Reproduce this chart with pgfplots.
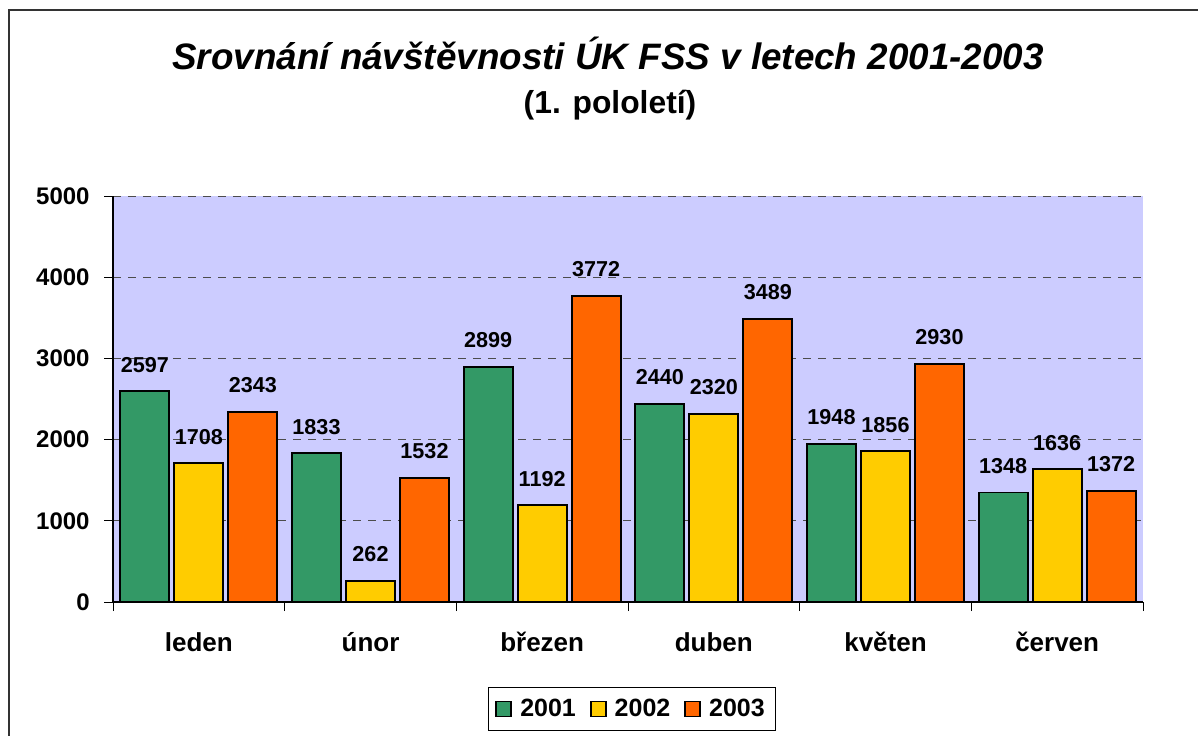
\documentclass[border=0pt]{standalone}
\usepackage{fontspec}
\setmainfont{Liberation Sans}
\usepackage{pgfplots}
\pgfplotsset{compat=1.18}
\definecolor{cgreen}{RGB}{51,153,102}
\definecolor{cyellow}{RGB}{255,204,0}
\definecolor{corange}{RGB}{255,102,0}
\definecolor{cbg}{RGB}{204,204,255}
\newcommand{\px}[2]{({(#1-113)*0.5pt},{(602-#2)*0.5pt})}
\begin{document}
\begin{tikzpicture}
\begin{axis}[
  at={(0,0)}, anchor=south west,
  scale only axis, width=515pt, height=203pt,
  xmin=-0.5, xmax=5.5, ymin=0, ymax=5000,
  ybar=2.5pt, bar width=24.5pt,
  axis x line=bottom, axis y line=left,
  axis line style={-, black, line width=0.6pt},
  axis background/.style={fill=cbg},
  xtick={0,1,2,3,4,5},
  xticklabels={leden,únor,březen,duben,květen,červen},
  major x tick style={draw=none},
  minor xtick={-0.5,0.5,1.5,2.5,3.5,4.5,5.5},
  minor x tick style={black, line width=0.5pt},
  minor tick length=4.5pt,
  ytick={0,1000,2000,3000,4000,5000},
  y tick style={black, line width=0.5pt},
  major tick length=4.5pt,
  tick align=outside,
  ymajorgrids,
  major grid style={black!70, line width=0.5pt, dash pattern=on 4pt off 3.5pt},
  /pgf/number format/assume math mode=true,
  /pgf/number format/1000 sep={},
  yticklabel style={font=\fontsize{12}{14}\selectfont\bfseries, anchor=east, inner sep=0pt, xshift=-7pt},
  xticklabel style={font=\fontsize{13}{15}\selectfont\bfseries, anchor=base, inner sep=0pt, yshift=-20pt},
  nodes near coords,
  nodes near coords style={font=\fontsize{10.8}{12}\selectfont\bfseries, anchor=south, inner sep=0pt, yshift=9pt, /pgf/number format/assume math mode=true},
  every axis plot/.append style={draw=black, line width=0.9pt},
  legend columns=3,
  legend style={at={(0.504,-0.2635)}, anchor=center, draw=black, line width=0.6pt,
    font=\fontsize{12.5}{14}\selectfont\bfseries, inner sep=3.5pt,
    /tikz/every even column/.append style={column sep=5pt}},
  legend image code/.code={\draw[#1, line width=0.8pt] (0pt,-3.75pt) rectangle (7.5pt,3.75pt);
    \path[draw=none, fill=none] (0pt,0pt) -- (10pt,0pt);},
]
\addplot[fill=cgreen] coordinates {(0,2597) (1,1833) (2,2899) (3,2440) (4,1948) (5,1348)};
\addplot[fill=cyellow] coordinates {(0,1708) (1,262) (2,1192) (3,2320) (4,1856) (5,1636)};
\addplot[fill=corange] coordinates {(0,2343) (1,1532) (2,3772) (3,3489) (4,2930) (5,1372)};
\legend{2001,2002,2003}
\end{axis}
\node[anchor=base, font=\fontsize{18.4}{22}\selectfont\bfseries\itshape] at \px{608}{70} {Srovnání návštěvnosti ÚK FSS v letech 2001-2003};
\node[anchor=base, font=\fontsize{15.9}{18}\selectfont\bfseries] at \px{610}{114} {(1. pololetí)};
\draw[black!80, line width=0.75pt] \px{9}{740} -- \px{9}{10} -- \px{1200}{10};
\pgfresetboundingbox
\path[use as bounding box] \px{0}{0} rectangle \px{1198}{735};
\end{tikzpicture}
\end{document}
